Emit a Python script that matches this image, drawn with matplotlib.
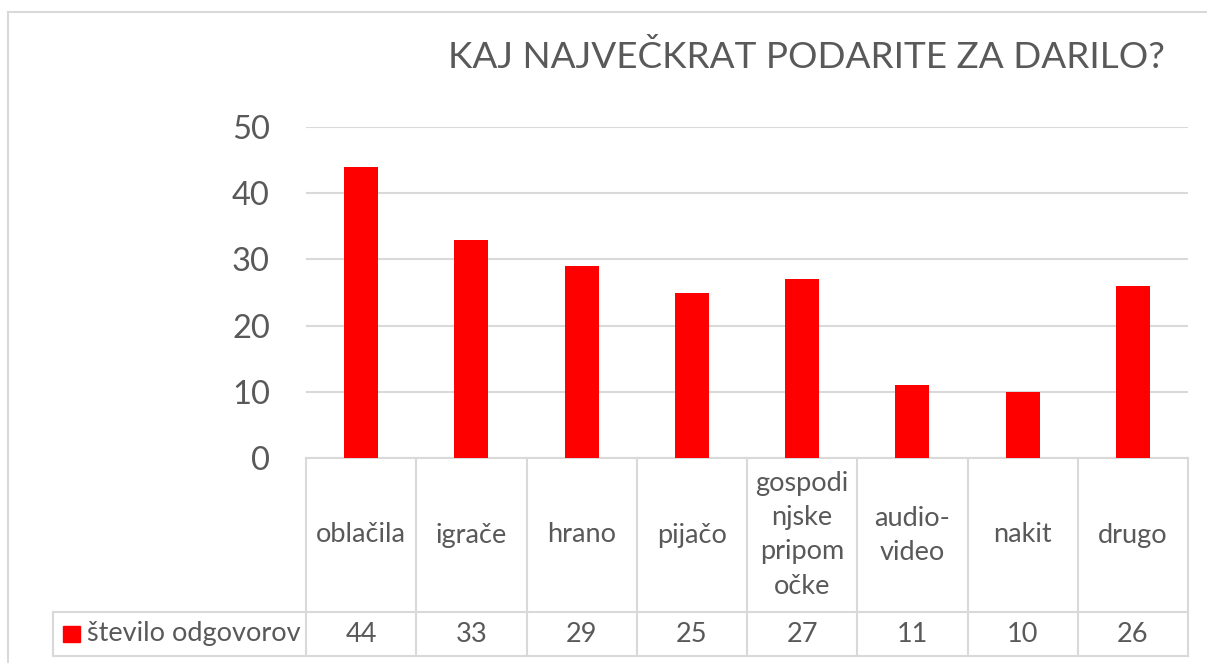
import matplotlib
matplotlib.use("Agg")
import matplotlib.pyplot as plt
from matplotlib.patches import Rectangle
from matplotlib.lines import Line2D

title = "KAJ NAJVEČKRAT PODARITE ZA DARILO?"
categories = ["oblačila", "igrače", "hrano", "pijačo", "gospodi\nnjske\npripom\nočke",
              "audio-\nvideo", "nakit", "drugo"]
values = [44, 33, 29, 25, 27, 11, 10, 26]
series_name = "število odgovorov"
yticks = [0, 10, 20, 30, 40, 50]

RED = "#ff0000"
GRID = "#d9d9d9"
TXT = "#595959"
FONT = "Lato"

W, H = 1207, 663
fig = plt.figure(figsize=(W / 100, H / 100), dpi=100)

# outer chart border
fig.add_artist(Line2D([8 / W, 8 / W], [0, 1 - 12 / H], color=GRID, lw=1.5))
fig.add_artist(Line2D([8 / W, 1], [1 - 12 / H, 1 - 12 / H], color=GRID, lw=1.5))

L, R, T, B = 306, 1188, 127, 458
ax = fig.add_axes([L / W, 1 - B / H, (R - L) / W, (B - T) / H])
n = len(categories)
x = list(range(n))
ax.bar(x, values, width=0.31, color=RED, zorder=3)
ax.set_xlim(-0.5, n - 0.5)
ax.set_ylim(0, 50)
ax.set_yticks(yticks)
ax.set_yticklabels([str(t) for t in yticks], fontsize=23.5, color=TXT, family=FONT)
ax.tick_params(axis="y", length=0, pad=26)
ax.tick_params(axis="x", length=0, labelbottom=False)
for s in ax.spines.values():
    s.set_visible(False)
ax.grid(axis="y", color=GRID, lw=1.5, zorder=0)

# data table
axh = B - T
row1 = -(612 - B) / axh
row2 = -(656 - B) / axh
legx = -(L - 53) / (R - L)
tr = ax.transAxes
lk = dict(color=GRID, lw=1.5, transform=tr, clip_on=False)
ax.add_line(Line2D([0, 1], [0, 0], **lk))
ax.add_line(Line2D([legx, 1], [row1, row1], **lk))
ax.add_line(Line2D([legx, 1], [row2, row2], **lk))
ax.add_line(Line2D([legx, legx], [row1, row2], **lk))
for i in range(n + 1):
    xf = i / n
    ax.add_line(Line2D([xf, xf], [0, row2], **lk))
for i in range(n):
    xc = (i + 0.5) / n
    ax.text(xc, row1 / 2, categories[i], transform=tr, ha="center", va="center",
            fontsize=19.5, color=TXT, family=FONT, linespacing=1.45)
    ax.text(xc, (row1 + row2) / 2, str(values[i]), transform=tr, ha="center",
            va="center", fontsize=19.5, color=TXT, family=FONT)

# legend key in table
ym = (row1 + row2) / 2
ax.add_patch(Rectangle((-(L - 63) / (R - L), ym - 8 / axh), 17 / (R - L), 16 / axh,
                       transform=tr, clip_on=False, color=RED))
ax.text(-(L - 87) / (R - L), ym, series_name, transform=tr, ha="left", va="center",
        fontsize=19.5, color=TXT, family=FONT)

fig.text(1165 / W, 1 - 57 / H, title, ha="right", va="center", fontsize=26.6,
         color=TXT, family=FONT)

fig.savefig("out.png", dpi=100)
